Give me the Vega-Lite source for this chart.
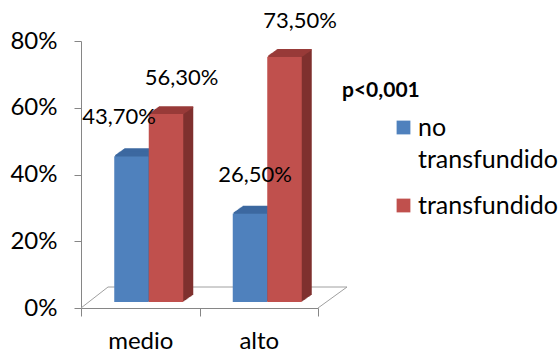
{
  "$schema": "https://vega.github.io/schema/vega-lite/v6.json",
  "width": 237,
  "height": 267,
  "autosize": "none",
  "padding": {"left": 81, "top": 41, "right": 242, "bottom": 45},
  "background": "white",
  "config": {
    "locale": {"number": {"decimal": ",", "thousands": ".", "grouping": [3], "currency": ["", " €"]}},
    "view": {"stroke": null},
    "font": "Lato",
    "axis": {"grid": false, "domainColor": "#868686", "tickColor": "#868686", "labelFont": "Lato", "labelColor": "#000000", "labelFontSize": 24, "title": null}
  },
  "layer": [
    {
      "data": {"values": [{}]},
      "mark": {"type": "rule", "color": "#A0A0A0", "strokeWidth": 1, "xOffset": 27, "x2Offset": 29, "yOffset": -21},
      "encoding": {
        "x": {"datum": "medio", "bandPosition": 0},
        "x2": {"datum": "alto", "bandPosition": 1},
        "y": {"datum": 0, "type": "quantitative"}
      }
    },
    {
      "data": {"values": [{}]},
      "mark": {"type": "rule", "color": "#A0A0A0", "strokeWidth": 1, "x2Offset": 27, "y2Offset": -21},
      "encoding": {
        "x": {"datum": "medio", "bandPosition": 0},
        "x2": {"datum": "medio", "bandPosition": 0},
        "y": {"datum": 0, "type": "quantitative"},
        "y2": {"datum": 0}
      }
    },
    {
      "data": {"values": [{}]},
      "mark": {"type": "rule", "color": "#A0A0A0", "strokeWidth": 1, "x2Offset": 29, "y2Offset": -21},
      "encoding": {
        "x": {"datum": "alto", "bandPosition": 1},
        "x2": {"datum": "alto", "bandPosition": 1},
        "y": {"datum": 0, "type": "quantitative"},
        "y2": {"datum": 0}
      }
    },
    {
      "data": {"values": [
        {"nivel": "medio", "grupo": "no transfundido", "pct": 0.437},
        {"nivel": "medio", "grupo": "transfundido", "pct": 0.563},
        {"nivel": "alto", "grupo": "no transfundido", "pct": 0.265},
        {"nivel": "alto", "grupo": "transfundido", "pct": 0.735}
      ]},
      "encoding": {
        "x": {"field": "nivel", "type": "nominal", "sort": ["medio", "alto"],
              "scale": {"paddingInner": 0, "paddingOuter": 0},
              "axis": {"tickBand": "extent", "tickSize": 8, "labelPadding": 25, "labelAngle": 0, "labelAlign": "center", "bandPosition": 0.5}},
        "y": {"field": "pct", "type": "quantitative",
              "scale": {"domain": [0, 0.8]},
              "axis": {"format": ".0%", "values": [0, 0.2, 0.4, 0.6, 0.8], "tickSize": 7, "labelPadding": 17}}
      },
      "resolve": {"scale": {"xOffset": "independent"}},
      "layer": [
        {"mark": {"type": "bar", "yOffset": -6.7, "y2Offset": -6.7}, "encoding": {"xOffset": {"field": "grupo", "sort": ["no transfundido", "transfundido"], "scale": {"paddingInner": 0, "paddingOuter": 0, "range": [34.25, 103.25]}}, "color": {"condition": {"test": "datum.grupo == 'transfundido'", "value": "#7F302E"}, "value": "#2E5380"}}},
        {"mark": {"type": "bar", "yOffset": -7.4, "y2Offset": -7.4}, "encoding": {"xOffset": {"field": "grupo", "sort": ["no transfundido", "transfundido"], "scale": {"paddingInner": 0, "paddingOuter": 0, "range": [35.25, 104.25]}}, "color": {"condition": {"test": "datum.grupo == 'transfundido'", "value": "#7F302E"}, "value": "#2E5380"}}},
        {"mark": {"type": "bar", "yOffset": -8.1, "y2Offset": -8.1}, "encoding": {"xOffset": {"field": "grupo", "sort": ["no transfundido", "transfundido"], "scale": {"paddingInner": 0, "paddingOuter": 0, "range": [36.25, 105.25]}}, "color": {"condition": {"test": "datum.grupo == 'transfundido'", "value": "#7F302E"}, "value": "#2E5380"}}},
        {"mark": {"type": "bar", "yOffset": -8.8, "y2Offset": -8.8}, "encoding": {"xOffset": {"field": "grupo", "sort": ["no transfundido", "transfundido"], "scale": {"paddingInner": 0, "paddingOuter": 0, "range": [37.25, 106.25]}}, "color": {"condition": {"test": "datum.grupo == 'transfundido'", "value": "#7F302E"}, "value": "#2E5380"}}},
        {"mark": {"type": "bar", "yOffset": -9.5, "y2Offset": -9.5}, "encoding": {"xOffset": {"field": "grupo", "sort": ["no transfundido", "transfundido"], "scale": {"paddingInner": 0, "paddingOuter": 0, "range": [38.25, 107.25]}}, "color": {"condition": {"test": "datum.grupo == 'transfundido'", "value": "#7F302E"}, "value": "#2E5380"}}},
        {"mark": {"type": "bar", "yOffset": -10.2, "y2Offset": -10.2}, "encoding": {"xOffset": {"field": "grupo", "sort": ["no transfundido", "transfundido"], "scale": {"paddingInner": 0, "paddingOuter": 0, "range": [39.25, 108.25]}}, "color": {"condition": {"test": "datum.grupo == 'transfundido'", "value": "#7F302E"}, "value": "#2E5380"}}},
        {"mark": {"type": "bar", "yOffset": -10.9, "y2Offset": -10.9}, "encoding": {"xOffset": {"field": "grupo", "sort": ["no transfundido", "transfundido"], "scale": {"paddingInner": 0, "paddingOuter": 0, "range": [40.25, 109.25]}}, "color": {"condition": {"test": "datum.grupo == 'transfundido'", "value": "#7F302E"}, "value": "#2E5380"}}},
        {"mark": {"type": "bar", "yOffset": -11.6, "y2Offset": -11.6}, "encoding": {"xOffset": {"field": "grupo", "sort": ["no transfundido", "transfundido"], "scale": {"paddingInner": 0, "paddingOuter": 0, "range": [41.25, 110.25]}}, "color": {"condition": {"test": "datum.grupo == 'transfundido'", "value": "#7F302E"}, "value": "#2E5380"}}},
        {"mark": {"type": "bar", "yOffset": -12.3, "y2Offset": -12.3}, "encoding": {"xOffset": {"field": "grupo", "sort": ["no transfundido", "transfundido"], "scale": {"paddingInner": 0, "paddingOuter": 0, "range": [42.25, 111.25]}}, "color": {"condition": {"test": "datum.grupo == 'transfundido'", "value": "#7F302E"}, "value": "#2E5380"}}},
        {"mark": {"type": "bar", "yOffset": -13.0, "y2Offset": -13.0}, "encoding": {"xOffset": {"field": "grupo", "sort": ["no transfundido", "transfundido"], "scale": {"paddingInner": 0, "paddingOuter": 0, "range": [43.25, 112.25]}}, "color": {"condition": {"test": "datum.grupo == 'transfundido'", "value": "#7F302E"}, "value": "#2E5380"}}},

        {"mark": {"type": "bar", "yOffset": -7.5, "y2Offset": -6.1}, "encoding": {"y2": {"field": "pct"}, "xOffset": {"field": "grupo", "sort": ["no transfundido", "transfundido"], "scale": {"paddingInner": 0, "paddingOuter": 0, "range": [34.25, 103.25]}}, "color": {"condition": {"test": "datum.grupo == 'transfundido'", "value": "#983B39"}, "value": "#3D69A0"}}},
        {"mark": {"type": "bar", "yOffset": -8.2, "y2Offset": -6.8}, "encoding": {"y2": {"field": "pct"}, "xOffset": {"field": "grupo", "sort": ["no transfundido", "transfundido"], "scale": {"paddingInner": 0, "paddingOuter": 0, "range": [35.25, 104.25]}}, "color": {"condition": {"test": "datum.grupo == 'transfundido'", "value": "#983B39"}, "value": "#3D69A0"}}},
        {"mark": {"type": "bar", "yOffset": -8.9, "y2Offset": -7.5}, "encoding": {"y2": {"field": "pct"}, "xOffset": {"field": "grupo", "sort": ["no transfundido", "transfundido"], "scale": {"paddingInner": 0, "paddingOuter": 0, "range": [36.25, 105.25]}}, "color": {"condition": {"test": "datum.grupo == 'transfundido'", "value": "#983B39"}, "value": "#3D69A0"}}},
        {"mark": {"type": "bar", "yOffset": -9.6, "y2Offset": -8.2}, "encoding": {"y2": {"field": "pct"}, "xOffset": {"field": "grupo", "sort": ["no transfundido", "transfundido"], "scale": {"paddingInner": 0, "paddingOuter": 0, "range": [37.25, 106.25]}}, "color": {"condition": {"test": "datum.grupo == 'transfundido'", "value": "#983B39"}, "value": "#3D69A0"}}},
        {"mark": {"type": "bar", "yOffset": -10.3, "y2Offset": -8.9}, "encoding": {"y2": {"field": "pct"}, "xOffset": {"field": "grupo", "sort": ["no transfundido", "transfundido"], "scale": {"paddingInner": 0, "paddingOuter": 0, "range": [38.25, 107.25]}}, "color": {"condition": {"test": "datum.grupo == 'transfundido'", "value": "#983B39"}, "value": "#3D69A0"}}},
        {"mark": {"type": "bar", "yOffset": -11.0, "y2Offset": -9.6}, "encoding": {"y2": {"field": "pct"}, "xOffset": {"field": "grupo", "sort": ["no transfundido", "transfundido"], "scale": {"paddingInner": 0, "paddingOuter": 0, "range": [39.25, 108.25]}}, "color": {"condition": {"test": "datum.grupo == 'transfundido'", "value": "#983B39"}, "value": "#3D69A0"}}},
        {"mark": {"type": "bar", "yOffset": -11.7, "y2Offset": -10.3}, "encoding": {"y2": {"field": "pct"}, "xOffset": {"field": "grupo", "sort": ["no transfundido", "transfundido"], "scale": {"paddingInner": 0, "paddingOuter": 0, "range": [40.25, 109.25]}}, "color": {"condition": {"test": "datum.grupo == 'transfundido'", "value": "#983B39"}, "value": "#3D69A0"}}},
        {"mark": {"type": "bar", "yOffset": -12.4, "y2Offset": -11.0}, "encoding": {"y2": {"field": "pct"}, "xOffset": {"field": "grupo", "sort": ["no transfundido", "transfundido"], "scale": {"paddingInner": 0, "paddingOuter": 0, "range": [41.25, 110.25]}}, "color": {"condition": {"test": "datum.grupo == 'transfundido'", "value": "#983B39"}, "value": "#3D69A0"}}},
        {"mark": {"type": "bar", "yOffset": -13.1, "y2Offset": -11.7}, "encoding": {"y2": {"field": "pct"}, "xOffset": {"field": "grupo", "sort": ["no transfundido", "transfundido"], "scale": {"paddingInner": 0, "paddingOuter": 0, "range": [42.25, 111.25]}}, "color": {"condition": {"test": "datum.grupo == 'transfundido'", "value": "#983B39"}, "value": "#3D69A0"}}},
        {"mark": {"type": "bar", "yOffset": -13.8, "y2Offset": -12.4}, "encoding": {"y2": {"field": "pct"}, "xOffset": {"field": "grupo", "sort": ["no transfundido", "transfundido"], "scale": {"paddingInner": 0, "paddingOuter": 0, "range": [43.25, 112.25]}}, "color": {"condition": {"test": "datum.grupo == 'transfundido'", "value": "#983B39"}, "value": "#3D69A0"}}},

        {
          "mark": {"type": "bar", "yOffset": -6, "y2Offset": -6},
          "encoding": {
            "xOffset": {"field": "grupo", "sort": ["no transfundido", "transfundido"], "scale": {"paddingInner": 0, "paddingOuter": 0, "range": [33.25, 102.25]}},
            "color": {"field": "grupo", "type": "nominal",
                      "scale": {"domain": ["no transfundido", "transfundido"], "range": ["#4F81BD", "#C0504D"]},
                      "legend": {
                        "orient": "none", "legendX": 261, "legendY": 39,
                        "title": "p<0,001", "titleFont": "Lato", "titleFontWeight": "bold", "titleFontSize": 21, "titleColor": "#000000", "titlePadding": 14,
                        "symbolType": "square", "symbolSize": 190, "symbolStrokeWidth": 0, "symbolOffset": 49,
                        "labelFont": "Lato", "labelFontSize": 25, "labelColor": "#000000", "labelOffset": 2,
                        "rowPadding": 20,
                        "labelExpr": "datum.label == 'no transfundido' ? ['no', 'transfundido'] : datum.label",
                        "encode": {"labels": {"update": {"lineHeight": {"value": 32}}}}
                      }}
          }
        },

        {
          "transform": [{"filter": "datum.grupo == 'transfundido'"}],
          "mark": {"type": "text", "font": "Lato", "fontSize": 22, "color": "#000000", "baseline": "middle", "dx": 15.5, "dy": -42},
          "encoding": {
            "xOffset": {"field": "grupo", "sort": ["no transfundido", "transfundido"], "scale": {"type": "point", "domain": ["no transfundido", "transfundido"], "padding": 0, "range": [50.5, 85]}},
            "text": {"field": "pct", "type": "quantitative", "format": ".2%"}
          }
        },
        {
          "transform": [{"filter": "datum.grupo == 'no transfundido' && datum.nivel == 'medio'"}],
          "mark": {"type": "text", "font": "Lato", "fontSize": 22, "color": "#000000", "baseline": "middle", "dx": -12.5, "dy": -45},
          "encoding": {
            "xOffset": {"field": "grupo", "sort": ["no transfundido", "transfundido"], "scale": {"type": "point", "domain": ["no transfundido", "transfundido"], "padding": 0, "range": [50.5, 85]}},
            "text": {"field": "pct", "type": "quantitative", "format": ".2%"}
          }
        },
        {
          "transform": [{"filter": "datum.grupo == 'no transfundido' && datum.nivel == 'alto'"}],
          "mark": {"type": "text", "font": "Lato", "fontSize": 22, "color": "#000000", "baseline": "middle", "dx": 5, "dy": -45},
          "encoding": {
            "xOffset": {"field": "grupo", "sort": ["no transfundido", "transfundido"], "scale": {"type": "point", "domain": ["no transfundido", "transfundido"], "padding": 0, "range": [50.5, 85]}},
            "text": {"field": "pct", "type": "quantitative", "format": ".2%"}
          }
        }
      ]
    }
  ]
}
